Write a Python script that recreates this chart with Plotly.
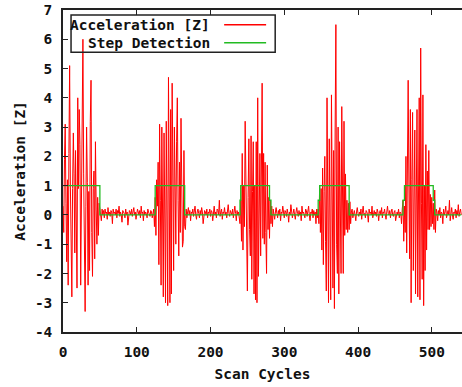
import plotly.graph_objects as go

# ---------------- data ----------------
accel_burst1 = [0.3, -0.6, 1.9, 3.1, 0.4, -1.6, 1.2, -2.4, 2.1, 5.1,
                1.0, -1.2, -2.8, 0.9, 2.8, 1.4, -1.3, 2.2, -2.0, -2.5,
                4.0, 0.9, 3.6, 2.4, -2.4, 0.5, 2.1, 6.0, 1.4, -1.8,
                -3.3, 0.3, 3.0, 1.1, -2.4, 0.8, -1.9, 3.2, 4.6, -0.6,
                -2.1, 0.9, 1.5, -1.5, 2.5, 0.2, -1.0, 0.6, -0.7, 0.4, 0.1]
accel_quiet1 = [0.1, -0.2, 0.2, 0.0, 0.15, -0.1, 0.2, 0.05, 0.1, -0.15,
                0.25, 0.0, 0.1, -0.05, 0.15, 0.1, -0.3, 0.2, 0.05, 0.1,
                0.0, 0.2, -0.1, 0.15, 0.05, 0.3, -0.05, 0.1, 0.0, -0.25,
                0.15, 0.1, 0.05, -0.1, 0.2, 0.0, 0.1, -0.35, 0.05, 0.15,
                0.1, 0.0, 0.2, -0.05, 0.1, 0.25, 0.0, 0.1, -0.15, 0.05,
                0.2, 0.1, 0.0, 0.15, -0.1, 0.3, 0.05, 0.1, -0.2, 0.15,
                0.0, 0.1, 0.05, -0.1, 0.2, 0.1, 0.0, -0.05, 0.15, 0.1,
                -0.1, 0.05, 0.2, -0.4]
accel_burst2 = [0.6, -0.7, 1.2, 0.3, 1.8, -1.7, 3.1, 0.5, -2.4, 3.0,
                0.8, -2.8, 2.8, -1.5, -3.0, 3.2, -2.2, -3.1, 4.7, 1.2,
                -3.0, 3.6, -2.7, 4.5, 0.8, -1.9, 3.0, 1.4, -1.0, 2.5,
                4.0, 0.5, -1.4, 1.8, -0.6, 3.3, 0.2, -1.1, -0.9, 2.2,
                -0.4, -0.5]
accel_quiet2 = [0.2, -0.1, 0.1, 0.25, 0.0, 0.15, -0.2, 0.1, 0.05, 0.2,
                -0.05, 0.1, 0.3, 0.0, -0.15, 0.1, 0.2, 0.05, -0.1, 0.15,
                0.0, 0.25, 0.1, -0.3, 0.05, 0.15, 0.1, 0.0, 0.2, -0.1,
                0.1, 0.05, 0.2, -0.05, 0.15, 0.1, -0.2, 0.05, 0.3, 0.0,
                0.1, -0.1, 0.2, 0.15, 0.0, 0.5, -0.05, 0.1, 0.2, -0.15,
                0.1, 0.05, 0.25, 0.0, 0.1, -0.1, 0.2, 0.35, 0.05, -0.05,
                0.15, 0.1, 0.0, 0.2, -0.1, 0.1, 0.3, 0.05, -0.2, 0.15,
                0.0, 0.1, -0.3]
accel_burst3 = [-0.3, 0.5, -0.9, 2.1, -1.2, 1.0, -0.4, 3.2, 1.5, -1.8,
                -2.6, 0.6, 2.6, -0.5, -1.4, 2.7, -2.2, 0.8, 2.5, -2.7,
                1.0, -2.9, 2.5, -3.0, 4.0, -2.1, 1.3, 2.1, -1.4, 0.6,
                4.5, -0.8, 2.1, -1.0, 1.8, -0.6, -2.0, 1.7, -0.5, 0.6,
                -0.8, 0.5, -0.3, 0.3, -0.4]
accel_quiet3 = [0.2, 0.0, -0.15, 0.1, 0.25, 0.05, -0.1, 0.15, 0.0, 0.2,
                -0.2, 0.1, 0.05, 0.3, 0.0, -0.1, 0.15, 0.1, -0.05, 0.2,
                0.05, -0.25, 0.1, 0.0, 0.35, 0.1, -0.1, 0.05, 0.2, 0.0,
                -0.15, 0.1, 0.25, 0.05, -0.05, 0.15, 0.0, 0.1, -0.2, 0.3,
                0.05, 0.1, 0.0, -0.1, 0.2, 0.15, -0.05, 0.1, 0.3, 0.0,
                -0.2, 0.1, 0.05, 0.2, -0.1, 0.15, 0.0, 0.1, -0.3, 0.2,
                -0.1]
accel_burst4 = [0.2, -0.3, 1.0, -0.6, 0.9, -1.2, 1.6, -1.7, 0.8, 2.0,
                -0.9, -2.6, 4.0, 0.5, -3.0, 2.6, -1.5, -2.9, 4.1, -0.5,
                -2.5, 2.2, -3.2, 3.0, 6.5, -1.0, -2.0, 3.0, -2.7, 2.5,
                1.0, -2.0, 3.7, 0.5, -2.0, 3.2, -0.7, 1.4, -0.5, 0.5,
                -0.6, 0.4, -0.5, 0.45, -0.3]
accel_quiet4 = [0.1, 0.2, -0.1, 0.05, 0.15, 0.0, -0.2, 0.1, 0.25, 0.05,
                -0.05, 0.1, 0.0, 0.2, -0.15, 0.1, 0.3, 0.0, 0.05, -0.1,
                0.15, 0.1, 0.0, -0.25, 0.2, 0.05, 0.1, 0.0, 0.3, -0.1,
                0.05, 0.15, 0.0, 0.1, -0.05, 0.2, 0.1, -0.2, 0.05, 0.15,
                0.0, 0.25, -0.1, 0.1, 0.05, 0.2, 0.0, -0.15, 0.1, 0.3,
                0.05, 0.0, 0.15, -0.1, 0.1, 0.2, 0.0, -0.05, 0.1, 0.15,
                -0.2, 0.05, 0.1, 0.0, 0.2, -0.1, 0.1, 0.05, -0.3, 0.2]
accel_burst5 = [0.5, -0.9, 0.3, -0.6, 2.0, -1.3, 0.8, 4.6, 1.0, -1.5,
                3.6, -3.0, 1.2, 3.5, -1.9, 0.5, 2.9, -2.7, 0.9, 3.6,
                -2.8, 1.5, 4.0, -2.9, 5.7, 0.4, -2.2, 4.1, -3.1, 1.0,
                -1.9, 2.4, -1.2, 1.5, -0.5, 2.2, -0.5, 0.7, -0.4, 0.6,
                -0.3, 0.4, -0.5, 0.85, -0.6, 0.2]
accel_quiet5 = [0.1, -0.2, 0.15, 0.0, 0.25, -0.1, 0.1, 0.05, -0.3, 0.2,
                0.0, 0.1, 0.3, -0.1, 0.05, 0.15, 0.0, 0.5, -0.2, 0.1,
                0.25, 0.0, -0.15, 0.1, 0.05, 0.2, -0.1, 0.15, 0.0, 0.35,
                -0.05, 0.1, 0.2, 0.0]

# step detection: cycle where the level changes and the level from there on
step_cycles = [0, 50, 125, 165, 240, 241, 280, 282, 346, 348, 388, 461, 463, 502, 504, 540]
step_values = [1, 0, 1, 0, 0.5, 1, 0.5, 0, 0.5, 1, 0, 0.5, 1, 0.5, 0, 0]

series_names = ["Acceleration [Z]", "Step Detection"]
x_tick_values = [0, 100, 200, 300, 400, 500]
x_tick_labels = ["0", "100", "200", "300", "400", "500"]
y_tick_values = [-4, -3, -2, -1, 0, 1, 2, 3, 4, 5, 6, 7]
y_tick_labels = ["-4", "-3", "-2", "-1", "0", "1", "2", "3", "4", "5", "6", "7"]

acceleration = (accel_burst1 + accel_quiet1 + accel_burst2 + accel_quiet2 +
                accel_burst3 + accel_quiet3 + accel_burst4 + accel_quiet4 +
                accel_burst5 + accel_quiet5)
cycles = list(range(len(acceleration)))

# ---------------- figure ----------------
FONT = "DejaVu Sans Mono"
FS = 14.5
RED = "#ff0000"
GREEN = "#22bb22"

fig = go.Figure()
fig.add_trace(go.Scatter(x=cycles, y=acceleration, mode="lines",
                         line=dict(color=RED, width=1), name=series_names[0]))
fig.add_trace(go.Scatter(x=step_cycles, y=step_values, mode="lines",
                         line=dict(color=GREEN, width=1.3, shape="hv"),
                         name=series_names[1]))

axis_common = dict(
    showgrid=False, zeroline=False, showline=True, linecolor="#222",
    linewidth=1.5, ticks="inside", ticklen=5, tickwidth=1.2, tickcolor="#222",
    tickfont=dict(family=FONT, size=FS, color="#111", weight="bold"),
)
fig.update_xaxes(range=[0, 541], tickvals=x_tick_values, ticktext=x_tick_labels,
                 mirror="ticks", ticklabelstandoff=6,
                 title=dict(text="Scan Cycles", standoff=10,
                            font=dict(family=FONT, size=FS, color="#111", weight="bold")),
                 **axis_common)
fig.update_yaxes(range=[-4, 7], tickvals=y_tick_values, ticktext=y_tick_labels,
                 mirror=False, ticklabelstandoff=6,
                 title=dict(text="Acceleration [Z]", standoff=6,
                            font=dict(family=FONT, size=FS, color="#111", weight="bold")),
                 **axis_common)

# gnuplot-style key: text right-aligned, sample line on the right, boxed
fig.add_shape(type="rect", x0=10.9, x1=287.7, y0=5.56, y1=6.83,
              line=dict(color="#222", width=1.5), xref="x", yref="y")
key_rows = [(6.50, RED), (5.88, GREEN)]
for name, (ky, col) in zip(series_names, key_rows):
    fig.add_annotation(x=202.5, y=ky, xref="x", yref="y", text=name,
                       showarrow=False, xanchor="right", yanchor="middle",
                       font=dict(family=FONT, size=FS, color="#111", weight="bold"))
    fig.add_shape(type="line", x0=218.5, x1=275.4, y0=ky, y1=ky,
                  line=dict(color=col, width=1.5), xref="x", yref="y")

fig.update_layout(
    width=462, height=387,
    margin=dict(l=63, r=0, t=10, b=55),
    paper_bgcolor="white", plot_bgcolor="white",
    showlegend=False,
)

fig.write_html("out.html")
